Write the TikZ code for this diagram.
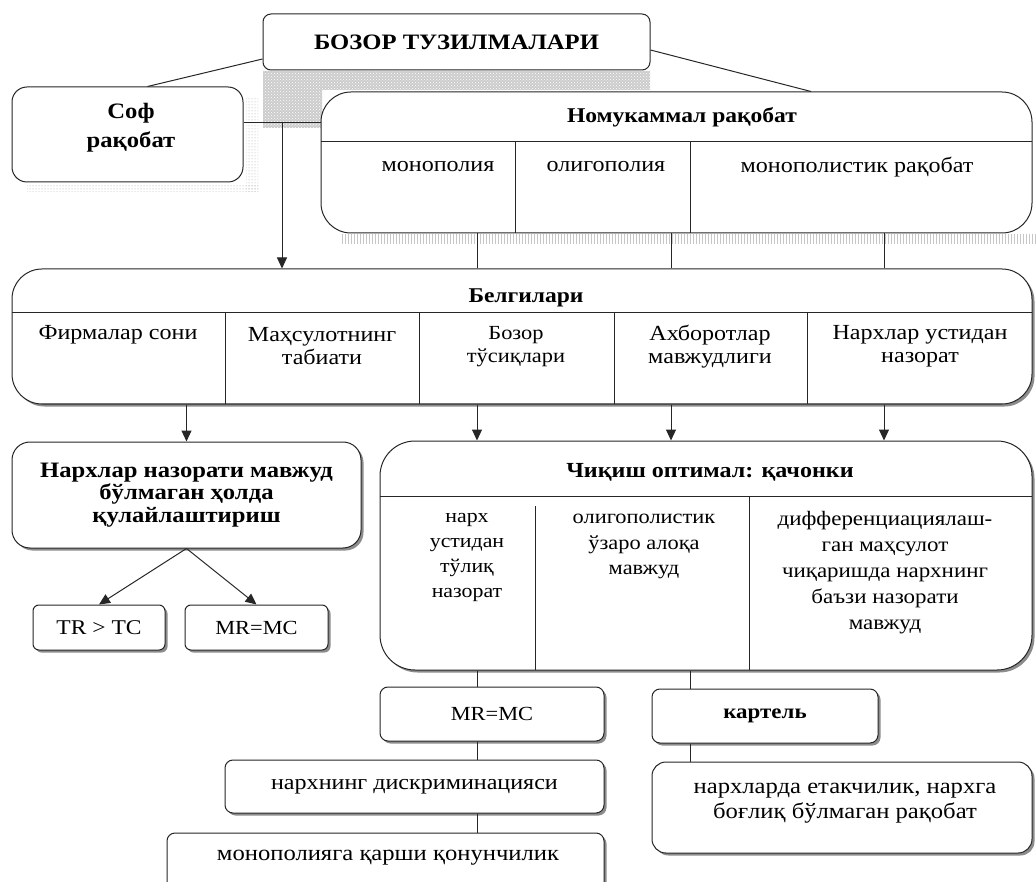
\documentclass[tikz,border=0pt]{standalone}
\usepackage{fontspec}
\setmainfont[FakeStretch=1.12]{Liberation Serif}
\usetikzlibrary{arrows.meta,shadows,patterns}
\begin{document}
\begin{tikzpicture}[x=1pt,y=-1pt,
  bx/.style={draw=black!85, line width=1pt, fill=white, rectangle, inner sep=0pt, align=center},
  shd/.style={drop shadow={shadow xshift=2.5pt,shadow yshift=-2.5pt,fill=black,opacity=0.45}},
  con/.style={draw=black!85,line width=1pt},
  arr/.style={con,-{Triangle[length=11pt,width=10pt]}},
  txt/.style={inner sep=0pt, align=center, font=\fontsize{21.5}{23}\selectfont},
  btxt/.style={inner sep=0pt, align=center, font=\fontsize{21}{23}\selectfont\bfseries},
  stxt/.style={inner sep=0pt, align=center, font=\fontsize{19.5}{25}\selectfont},
]
\useasboundingbox (0,0) rectangle (1036,882);
% patterned shadows at top
\fill[preaction={fill=gray!40}, pattern=crosshatch dots, pattern color=white]
  (263,71) -- (650,71) -- (650,90) -- (322,90) -- (322,128) -- (263,128) -- cycle;
\fill[pattern=dots, pattern color=gray!70] (246,98) rectangle (258,192);
\fill[pattern=dots, pattern color=gray!70] (27,184) rectangle (258,192);
\fill[pattern=vertical lines, pattern color=gray!45] (340,235) rectangle (1036,244);

% top box
\node[bx, rounded corners=8pt, minimum width=387pt, minimum height=56pt,
      font=\fontsize{22}{24}\selectfont\bfseries] (T) at (456.5,42) {БОЗОР ТУЗИЛМАЛАРИ};
% Соф рақобат
\node[bx, rounded corners=15pt, minimum width=231pt, minimum height=95pt] (S) at (127.5,134.5) {};
\node[inner sep=0pt, align=center, font=\fontsize{22}{29}\selectfont\bfseries] (St) at (131,128) {Соф\\рақобат};
% Номукаммал рақобат
\node[bx, rounded corners=30pt, minimum width=711pt, minimum height=141pt] (N) at (676.5,162.5) {};
\draw[con] (321,142) -- (1032,142);
\draw[con] (515,142) -- (515,233);
\draw[con] (690,142) -- (690,233);
\node[btxt] (Nt) at (682,117) {Номукаммал рақобат};
\node[txt] (N1) at (438,167) {монополия};
\node[txt] (N2) at (606,167) {олигополия};
\node[txt] (N3) at (857,167) {монополистик рақобат};

% connectors at top
\draw[con] ([yshift=-17pt]T.west) -- ([xshift=20pt]S.north);
\draw[con] ([yshift=-8pt]T.east) -- ([xshift=134.5pt]N.north);
\coordinate (J) at (282,123);
\draw[con] ([yshift=11.5pt]S.east) -- ([yshift=11.5pt]S.east -| N.west);

% Белгилари
\node[bx, shd, rounded corners=30pt, minimum width=1020pt, minimum height=135pt] (B) at (522,336.5) {};
\draw[con] (12,313) -- (1032,313);
\foreach \xx in {225,419,614,807} \draw[con] (\xx,313) -- (\xx,404);
\node[btxt] (Bt) at (526,298) {Белгилари};
\node[txt] (B1) at (118,335) {Фирмалар сони};
\node[txt] (B2) at (322,346.5) {Маҳсулотнинг\\табиати};
\node[txt, font=\fontsize{20}{23}\selectfont] (B3) at (516,346.5) {Бозор\\тўсиқлари};
\node[txt] (B4) at (710,346.5) {Ахборотлар\\мавжудлиги};
\node[txt] (B5) at (920,346.5) {Нархлар устидан\\назорат};

\draw[arr] (J) -- (J |- B.north);
\draw[con] ([xshift=-199.5pt]N.south) -- ([xshift=-199.5pt]N.south |- B.north);
\draw[con] ([xshift=-5.5pt]N.south) -- ([xshift=-5.5pt]N.south |- B.north);
\draw[con] ([xshift=207.5pt]N.south) -- ([xshift=207.5pt]N.south |- B.north);

% Нархлар назорати
\node[bx, shd, rounded corners=18pt, minimum width=349pt, minimum height=106pt,
      font=\fontsize{22}{22.5}\selectfont\bfseries] (P) at (186.5,495)
      {Нархлар назорати мавжуд\\бўлмаган ҳолда\\қулайлаштириш};
\node[bx, shd, rounded corners=6pt, minimum width=132pt, minimum height=45pt,
      font=\fontsize{21}{24}\selectfont] (TT) at (99,627.5) {TR > TC};
\node[bx, shd, rounded corners=6pt, minimum width=143pt, minimum height=45pt,
      font=\fontsize{20}{24}\selectfont] (MM) at (256.5,627.5) {MR=MC};

% Чиқиш оптимал
\node[bx, shd, rounded corners=35pt, minimum width=652pt, minimum height=229pt] (C) at (706,555.5) {};
\draw[con] (380,496) -- (1032,496);
\draw[con] (535,506) -- (535,670);
\draw[con] (749,496) -- (749,670);
\node[btxt, font=\fontsize{21.5}{23}\selectfont\bfseries] (Ct) at (710,472) {Чиқиш оптимал: қачонки};
\node[stxt] (C1) at (467,557) {нарх\\устидан\\тўлиқ\\назорат};
\node[stxt, font=\fontsize{20}{25.5}\selectfont] (C2) at (644,546.5) {олигополистик\\ўзаро алоқа\\мавжуд};
\node[stxt, font=\fontsize{20.5}{25.8}\selectfont] (C3) at (885,572.5) {дифференциациялаш-\\ган маҳсулот\\чиқаришда нархнинг\\баъзи назорати\\мавжуд};

\draw[arr] (P.north |- B.south) -- (P.north);
\draw[arr] ([xshift=-229pt]C.north |- B.south) -- ([xshift=-229pt]C.north);
\draw[arr] ([xshift=-35pt]C.north |- B.south) -- ([xshift=-35pt]C.north);
\draw[arr] ([xshift=178pt]C.north |- B.south) -- ([xshift=178pt]C.north);
\draw[arr] (P.south) -- (TT.north);
\draw[arr] (P.south) -- (MM.north);

% bottom boxes
\node[bx, shd, rounded corners=8pt, minimum width=224pt, minimum height=54pt,
      font=\fontsize{20}{23}\selectfont] (M2) at (492,714) {MR=MC};
\node[bx, shd, rounded corners=8pt, minimum width=379pt, minimum height=53pt,
      font=\fontsize{21.5}{23}\selectfont] (D) at (414.5,786.5) {нархнинг дискриминацияси};
\node[bx, shd, rounded corners=8pt, minimum width=437pt, minimum height=72pt] (Mo) at (385.5,869) {};
\node[inner sep=0pt, font=\fontsize{22}{23}\selectfont] (Mot) at (388,858) {монополияга қарши қонунчилик};
\node[bx, shd, rounded corners=8pt, minimum width=226pt, minimum height=54pt,
      font=\fontsize{20.5}{23}\selectfont\bfseries] (K) at (765,716) {картель};
\node[bx, shd, rounded corners=14pt, minimum width=380pt, minimum height=91pt,
      font=\fontsize{22}{25}\selectfont] (Nx) at (842,807.5) {};
\node[inner sep=0pt, align=center, font=\fontsize{22}{25}\selectfont] (Nxt) at (845,803) {нархларда етакчилик, нархга\\боғлиқ бўлмаган рақобат};

\draw[con] ([xshift=-229pt]C.south) -- ([xshift=-229pt]C.south |- M2.north);
\draw[con] ([xshift=-15pt]M2.south) -- ([xshift=-15pt]M2.south |- D.north);
\draw[con] ([xshift=62.5pt]D.south) -- ([xshift=62.5pt]D.south |- Mo.north);
\draw[con] ([xshift=-16pt]C.south) -- ([xshift=-16pt]C.south |- K.north);
\draw[con] ([xshift=-75pt]K.south) -- ([xshift=-75pt]K.south |- Nx.north);
\end{tikzpicture}
\end{document}
